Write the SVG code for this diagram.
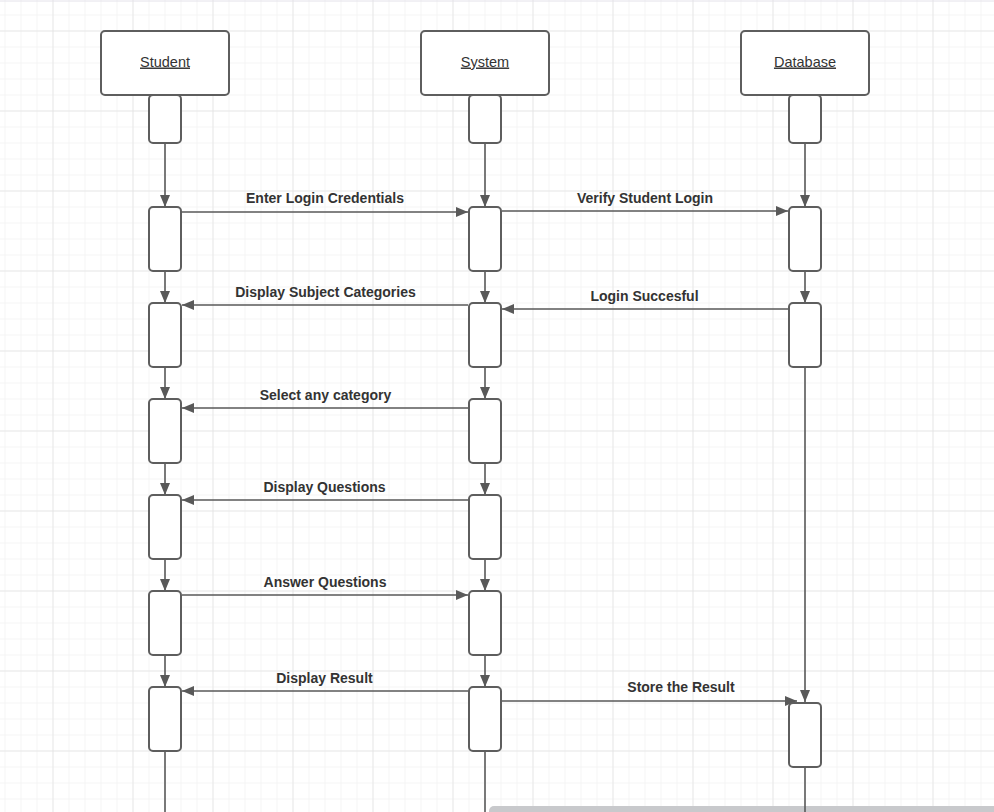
<svg xmlns="http://www.w3.org/2000/svg" width="994" height="812" viewBox="0 0 994 812">
  <defs>
    <pattern id="minor" x="4.5" y="14.5" width="16" height="16" patternUnits="userSpaceOnUse">
      <path d="M0 0 H16 M0 0 V16" fill="none" stroke="#ebebeb" stroke-width="1"/>
    </pattern>
    <pattern id="major" x="52.5" y="30.5" width="80" height="80" patternUnits="userSpaceOnUse">
      <path d="M0 0 H80 M0 0 V80" fill="none" stroke="#dcdcdc" stroke-width="1"/>
    </pattern>
    <marker id="arrow" viewBox="0 0 12 10" refX="12" refY="5" markerWidth="12" markerHeight="10" markerUnits="userSpaceOnUse" orient="auto">
      <path d="M0 0 L12 5 L0 10 Z" fill="#595959"/>
    </marker>
  </defs>
  <style>
    .head { fill: #ffffff; stroke: #5e5e5e; stroke-width: 2; }
    .act { fill: #ffffff; stroke: #5e5e5e; stroke-width: 2; }
    .title { font-family: "Liberation Sans", Arial, sans-serif; font-size: 14.5px; fill: #333333; text-anchor: middle; text-decoration: underline; }
    .msg { font-family: "Liberation Sans", Arial, sans-serif; font-size: 14px; font-weight: bold; fill: #333333; text-anchor: middle; }
    .line { fill: none; stroke: #595959; stroke-width: 1.6; }
    .arr { fill: none; stroke: #595959; stroke-width: 1.6; marker-end: url(#arrow); }
  </style>

  <!-- canvas grid -->
  <rect width="994" height="812" fill="#ffffff"/>
  <rect width="994" height="812" fill="url(#minor)"/>
  <rect width="994" height="812" fill="url(#major)"/>
  <line x1="0" y1="1" x2="994" y2="1" stroke="#e4e2ea" stroke-width="1"/>

  <!-- scrollbar strip -->
  <rect x="489" y="806" width="510" height="12" rx="5" fill="#c8c9cc"/>

  <!-- connectors: lifelines and messages -->
  <g id="connectors">
    <!-- Student lifeline -->
    <line class="arr" x1="165" y1="143" x2="165" y2="207"/>
    <line class="arr" x1="165" y1="271" x2="165" y2="303"/>
    <line class="arr" x1="165" y1="367" x2="165" y2="399"/>
    <line class="arr" x1="165" y1="463" x2="165" y2="495"/>
    <line class="arr" x1="165" y1="559" x2="165" y2="591"/>
    <line class="arr" x1="165" y1="655" x2="165" y2="687"/>
    <line class="line" x1="165" y1="751" x2="165" y2="812"/>
    <!-- System lifeline -->
    <line class="arr" x1="485" y1="143" x2="485" y2="207"/>
    <line class="arr" x1="485" y1="271" x2="485" y2="303"/>
    <line class="arr" x1="485" y1="367" x2="485" y2="399"/>
    <line class="arr" x1="485" y1="463" x2="485" y2="495"/>
    <line class="arr" x1="485" y1="559" x2="485" y2="591"/>
    <line class="arr" x1="485" y1="655" x2="485" y2="687"/>
    <line class="line" x1="485" y1="751" x2="485" y2="812"/>
    <!-- Database lifeline -->
    <line class="arr" x1="805" y1="143" x2="805" y2="207"/>
    <line class="arr" x1="805" y1="271" x2="805" y2="303"/>
    <line class="arr" x1="805" y1="367" x2="805" y2="702"/>
    <line class="line" x1="805" y1="767" x2="805" y2="812"/>

    <!-- messages -->
    <line class="arr" x1="182" y1="212" x2="468" y2="212"/>
    <line class="arr" x1="502" y1="211" x2="788" y2="211"/>
    <line class="arr" x1="468" y1="305" x2="182" y2="305"/>
    <line class="arr" x1="788" y1="309" x2="502" y2="309"/>
    <line class="arr" x1="468" y1="408" x2="182" y2="408"/>
    <line class="arr" x1="468" y1="500" x2="182" y2="500"/>
    <line class="arr" x1="182" y1="595" x2="468" y2="595"/>
    <line class="arr" x1="468" y1="691" x2="182" y2="691"/>
    <line class="arr" x1="502" y1="701" x2="797" y2="701"/>

    <text class="msg" x="325" y="203">Enter Login Credentials</text>
    <text class="msg" x="645" y="202.5">Verify Student Login</text>
    <text class="msg" x="325.5" y="296.5">Display Subject Categories</text>
    <text class="msg" x="644.5" y="300.5">Login Succesful</text>
    <text class="msg" x="325.5" y="399.5">Select any category</text>
    <text class="msg" x="324.5" y="491.5">Display Questions</text>
    <text class="msg" x="325" y="586.5">Answer Questions</text>
    <text class="msg" x="324.5" y="682.5">Display Result</text>
    <text class="msg" x="681" y="691.5">Store the Result</text>
  </g>

  <!-- Student -->
  <g id="student">
    <rect class="head" x="101" y="31" width="128" height="64" rx="4"/>
    <text class="title" x="165" y="66.5">Student</text>
    <rect class="act" x="149" y="95" width="32" height="48" rx="4"/>
    <rect class="act" x="149" y="207" width="32" height="64" rx="4"/>
    <rect class="act" x="149" y="303" width="32" height="64" rx="4"/>
    <rect class="act" x="149" y="399" width="32" height="64" rx="4"/>
    <rect class="act" x="149" y="495" width="32" height="64" rx="4"/>
    <rect class="act" x="149" y="591" width="32" height="64" rx="4"/>
    <rect class="act" x="149" y="687" width="32" height="64" rx="4"/>
  </g>

  <!-- System -->
  <g id="system">
    <rect class="head" x="421" y="31" width="128" height="64" rx="4"/>
    <text class="title" x="485" y="66.5">System</text>
    <rect class="act" x="469" y="95" width="32" height="48" rx="4"/>
    <rect class="act" x="469" y="207" width="32" height="64" rx="4"/>
    <rect class="act" x="469" y="303" width="32" height="64" rx="4"/>
    <rect class="act" x="469" y="399" width="32" height="64" rx="4"/>
    <rect class="act" x="469" y="495" width="32" height="64" rx="4"/>
    <rect class="act" x="469" y="591" width="32" height="64" rx="4"/>
    <rect class="act" x="469" y="687" width="32" height="64" rx="4"/>
  </g>

  <!-- Database -->
  <g id="database">
    <rect class="head" x="741" y="31" width="128" height="64" rx="4"/>
    <text class="title" x="805" y="66.5">Database</text>
    <rect class="act" x="789" y="95" width="32" height="48" rx="4"/>
    <rect class="act" x="789" y="207" width="32" height="64" rx="4"/>
    <rect class="act" x="789" y="303" width="32" height="64" rx="4"/>
    <rect class="act" x="789" y="703" width="32" height="64" rx="4"/>
  </g>
</svg>
